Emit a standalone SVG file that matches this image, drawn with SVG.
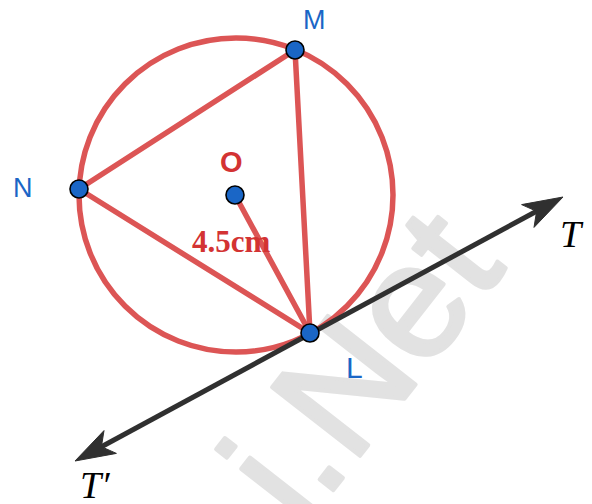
<svg xmlns="http://www.w3.org/2000/svg" width="592" height="504" viewBox="0 0 592 504">
<style>
.red{fill:none;stroke:#dc5555;stroke-width:5.5;stroke-linecap:round}
.pt{fill:#1a66c6;stroke:#000;stroke-width:1.6}
.lbl{font-family:"Liberation Sans",Arial,sans-serif;fill:#1a66c6}
.wm{font-family:"Liberation Sans",Arial,sans-serif;fill:#e2e2e2;stroke:#e2e2e2;stroke-width:4;stroke-linejoin:round}
.tan{fill:none;stroke:#303030;stroke-width:5}
.head{fill:#303030;stroke:#303030;stroke-width:1;stroke-linejoin:round}
.math{font-family:"Liberation Serif","Times New Roman",serif;font-style:italic;fill:#000}
</style>
<rect width="592" height="504" fill="#fff"/>
<g id="watermark">
<text class="wm" x="302" y="530" font-size="162" transform="rotate(-52 302 530)">i.Net</text>
</g>
<g id="circle">
<circle class="red" cx="236" cy="195" r="157"/>
</g>
<g id="connectors">
<line class="red" x1="295" y1="50" x2="79" y2="189"/>
<line class="red" x1="79" y1="189" x2="310" y2="333"/>
<line class="red" x1="295" y1="50" x2="310" y2="333"/>
<line class="red" x1="235" y1="195" x2="310" y2="333"/>
<g id="tangent">
<line class="tan" x1="101" y1="447" x2="537" y2="211"/>
<polygon class="head" points="75,461 104,430.6 101.4,446.7 116.4,453.4"/>
<polygon class="head" points="563,197 534,227.4 536.6,211.3 521.6,204.6"/>
</g>
</g>
<g id="M">
<circle class="pt" cx="295" cy="50" r="9"/>
<text class="lbl" x="303" y="29" font-size="27">M</text>
</g>
<g id="N">
<circle class="pt" cx="79" cy="189" r="9"/>
<text class="lbl" x="13" y="197" font-size="27">N</text>
</g>
<g id="O">
<circle class="pt" cx="235" cy="195" r="9"/>
<text x="220" y="172" font-size="29" font-weight="bold" font-family="Liberation Sans,Arial,sans-serif" fill="#d33333">O</text>
<text x="192" y="252" font-size="31" font-weight="bold" font-family="Liberation Serif,Times New Roman,serif" fill="#d33333">4.5cm</text>
</g>
<g id="L">
<circle class="pt" cx="310" cy="333" r="9"/>
<text class="lbl" x="346" y="378" font-size="30">L</text>
</g>
<g id="T">
<text class="math" x="560" y="247" font-size="38">T</text>
</g>
<g id="Tprime">
<text class="math" x="80" y="498" font-size="38">T′</text>
</g>
</svg>
